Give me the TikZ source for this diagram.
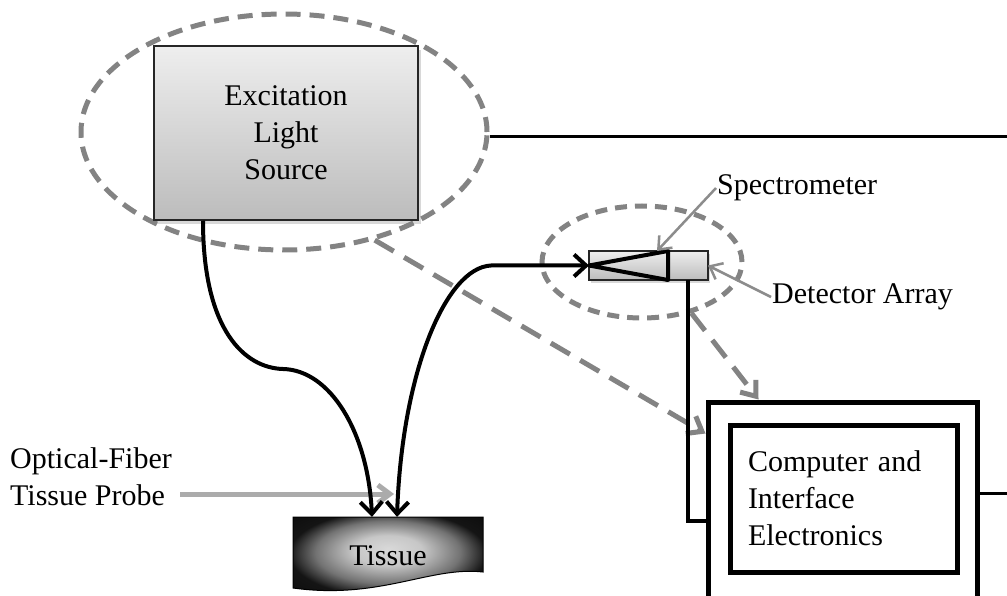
\documentclass[tikz,border=0pt]{standalone}
\usepackage{fontspec}
\setmainfont{Liberation Serif}
\usetikzlibrary{arrows.meta,positioning,shapes.geometric,shadows,calc}
\definecolor{dashgray}{HTML}{838383}
\definecolor{labgray}{HTML}{8C8C8C}
\definecolor{probegray}{HTML}{ABABAB}
\definecolor{boxtop}{HTML}{EEEEEE}
\definecolor{boxbot}{HTML}{BCBCBC}
\pgfdeclareradialshading{tissueshade}{\pgfpoint{0bp}{6bp}}{color(0bp)=(black!15);
  color(9bp)=(black!22); color(19bp)=(black!55); color(26bp)=(black!92); color(50bp)=(black)}
\tikzset{
  srcbox/.style  ={draw=black!85,line width=1.5pt,top color=boxtop,bottom color=boxbot,
                   align=center,drop shadow={opacity=0.3,shadow xshift=3pt,shadow yshift=-4pt}},
  specbox/.style ={draw=black!85,line width=1.5pt,top color=boxtop,bottom color=boxbot,
                   inner sep=0pt,outer sep=0pt,drop shadow={opacity=0.3,shadow xshift=2pt,shadow yshift=-3pt}},
  pcbox/.style   ={draw=black,line width=5pt,inner sep=0pt},
  zone/.style    ={ellipse,draw=dashgray,line width=5pt,dash pattern=on 15pt off 9pt},
  fibre/.style   ={line width=4pt,draw=black},
  wire/.style    ={line width=4pt,draw=black},
  lightpath/.style={-{Straight Barb[length=13pt,width=20pt]},line width=5pt,draw=dashgray,
                   dash pattern=on 22pt off 12pt},
  callout/.style ={-{Straight Barb[length=11pt,width=18pt]},line width=2.5pt,draw=labgray},
  probeline/.style={-{Straight Barb[length=12pt,width=18pt]},line width=5pt,draw=probegray}
}
\newcommand{\fibretip}{Straight Barb[length=12pt,width=22pt]}

\begin{document}
\begin{tikzpicture}[x=1pt,y=-1pt,font=\fontsize{30}{37}\selectfont]
    \useasboundingbox[fill=white] (0,0) rectangle (1007,596);
    \clip (0,0) rectangle (1007,596);
    \node[zone,minimum width=406pt,minimum height=236pt] (srczone) at (284,132) {};
    \node[zone,minimum width=200pt,minimum height=112pt,dash pattern=on 12pt off 8pt] (speczone) at (642,262) {};
    \node[srcbox,minimum width=264pt,minimum height=174pt] (exc) at (286,133) {Excitation\\Light\\Source};
    \node[specbox,minimum width=79pt,minimum height=29pt] (grating) at (628.5,265.5) {};
    \node[specbox,right=0pt of grating,minimum width=40pt,minimum height=29pt] (detector) {};
    \node[pcbox,minimum width=269pt,minimum height=238pt] (pc) at (842.5,521) {};
    \node[pcbox,minimum width=227pt,minimum height=147pt,text width=191pt,align=left,inner xsep=18pt] (pcin) at (843.5,498.5) {Computer and\\Interface\\Electronics};
    \coordinate (tissuetop) at (293,517);
    \shade[shading=tissueshade,draw=black,line width=1pt] (tissuetop) -- ++(190,0) -- ++(0,55)
        .. controls +(-53,-6) and +(87,12) .. ($(tissuetop)+(0,71)$) -- cycle;
    \node[minimum width=190pt,minimum height=78pt,inner sep=0pt] (tissue) at (388,556) {Tissue};
    \node[anchor=west,inner sep=1pt] (speclab) at (716,188) {Spectrometer};
    \node[anchor=west,inner sep=1pt] (detlab) at (771,297) {Detector Array};
    \node[anchor=west,align=left,inner sep=2pt] (probe) at (8,477) {Optical-Fiber\\Tissue Probe};
    \coordinate (probetip) at (394,494);
    \coordinate (srcout) at (1007,137);
    \coordinate (pcout) at (1007,493);
    \draw[line width=4pt,line join=round] (grating.west) -- (grating.north east) -- (grating.south east) -- cycle;
    \draw[lightpath] (srczone.-50) -- ([yshift=-34pt]pc.north west);
    \draw[lightpath] (speczone.-46) -- ([xshift=53pt]pc.north west);
    \draw[callout] (speclab.west) -- ([xshift=-11pt]grating.north east);
    \draw[callout] (detlab.west) -- (detector.east);
    \draw[probeline] ($(probe.east |- probetip)+(6,0)$) -- (probetip);
    \draw[fibre,-{\fibretip}] ([xshift=-83pt]exc.south) .. controls +(0,110) and +(-38,-1) .. (283,369)
        .. controls +(47,1) and +(-4,-85) .. ([xshift=-16pt]tissue.north);
    \draw[fibre,{\fibretip}-{\fibretip}] (grating.west) -- ++(-98,0) .. controls +(-45,2) and +(5,-145) .. ([xshift=9pt]tissue.north);
    \draw[wire] (detector.south) |- (pc.west);
    \draw[wire,line width=3pt] (srczone.east |- srcout) -- (srcout);
    \draw[wire,line width=3pt] (pc.east |- pcout) -- (pcout);
  \end{tikzpicture}
\end{document}
